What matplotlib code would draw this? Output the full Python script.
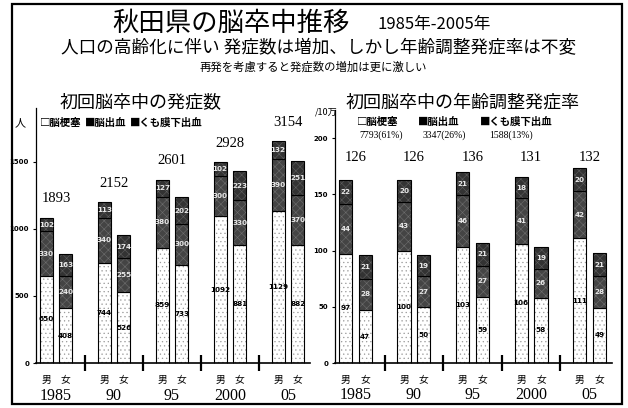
import numpy as np
import matplotlib
matplotlib.use("Agg")
import matplotlib.pyplot as plt
from matplotlib.patches import Rectangle

plt.rcParams['font.family'] = ['Noto Sans CJK JP', 'DejaVu Sans']
plt.rcParams['hatch.linewidth'] = 0.4

# ── DATA ─────────────────────────────────────────────────────────────────────
years = ["1985", "90", "95", "2000", "05"]
sexes = ["男", "女"]

# 初回脳卒中の発症数 (人)
cnt_total = [1893, 2152, 2601, 2928, 3154]
cnt_m_inf = [650, 744, 859, 1092, 1129]
cnt_m_hem = [330, 340, 380, 300, 390]
cnt_m_sah = [102, 113, 127, 102, 132]
cnt_f_inf = [408, 526, 733, 881, 882]
cnt_f_hem = [240, 255, 300, 330, 370]
cnt_f_sah = [163, 174, 202, 223, 251]

# 初回脳卒中の年齢調整発症率 (/10万)
rate_total = [126, 126, 136, 131, 132]
rate_m_inf = [97, 100, 103, 106, 111]
rate_m_hem = [44, 43, 46, 41, 42]
rate_m_sah = [22, 20, 21, 18, 20]
rate_f_inf = [47, 50, 59, 58, 49]
rate_f_hem = [28, 27, 27, 26, 28]
rate_f_sah = [21, 19, 21, 19, 21]

legend_names = ["脳梗塞", "脳出血", "くも膜下出血"]
legend_counts = ["7793(61%)", "3347(26%)", "1588(13%)"]

# ── STYLE ────────────────────────────────────────────────────────────────────
W, H = 628, 408
faces = ["white", "#444444", "#333333"]
hatch_cols = ["#9a9a9a", "#6e6e6e", "#5e5e5e"]
hatches = ["....", "xxxx", "xxxx"]
txt_cols = ["black", "#e8e8e8", "#e8e8e8"]
BW = 0.224
OFF = 0.168
SERIF = "Liberation Serif"

fig = plt.figure(figsize=(W / 100, H / 100), dpi=100)


def ftext(x, y, s, **kw):
    # place text using pixel coordinates of the reference
    fig.text(x / W, 1 - y / H, s, **kw)


def draw_panel(ax, m_parts, f_parts, totals, label_y, ylim, yticks):
    x = np.arange(len(years))
    for offs, parts in [(-OFF, m_parts), (OFF, f_parts)]:
        bottom = np.zeros(len(years))
        for k, vals in enumerate(parts):
            vals = np.array(vals, dtype=float)
            ax.bar(x + offs, vals, BW, bottom=bottom, color=faces[k],
                   hatch=hatches[k], edgecolor=hatch_cols[k], lw=0)
            ax.bar(x + offs, vals, BW, bottom=bottom, fill=False,
                   edgecolor="black", lw=0.8)
            for xi, b, v in zip(x + offs, bottom, vals):
                ax.text(xi, b + v / 2, f"{int(v)}", ha="center", va="center",
                        fontsize=5.2, fontweight="bold", color=txt_cols[k],
                        family="DejaVu Sans")
            bottom += vals
    for xi, t, ly in zip(x, totals, label_y):
        ax.text(xi, ly, str(t), ha="center", va="center", fontsize=10.5,
                family=SERIF)

    ax.set_xlim(-0.345, 4.38)
    ax.set_ylim(*ylim)
    ax.set_yticks(yticks)
    ax.set_yticklabels([str(t) for t in yticks], fontsize=5,
                       fontweight="bold", family="DejaVu Sans")
    ax.tick_params(axis="y", direction="out", length=2, width=0.8, pad=3)

    ax.set_xticks(np.arange(len(years) - 1) + 0.5)
    ax.set_xticklabels([])
    edges = np.sort(np.concatenate([x - OFF - BW / 2, x - OFF + BW / 2,
                                    x + OFF - BW / 2, x + OFF + BW / 2]))
    ax.set_xticks(edges, minor=True)
    ax.tick_params(axis="x", which="major", direction="inout", length=12,
                   width=1.6)
    ax.tick_params(axis="x", which="minor", direction="in", length=2.5,
                   width=0.6)
    for s in ["top", "right"]:
        ax.spines[s].set_visible(False)
    ax.spines["left"].set_linewidth(0.9)
    ax.spines["bottom"].set_linewidth(1.2)

    tr = ax.get_xaxis_transform()
    for xi, yr in zip(x, years):
        ax.text(xi - OFF, -0.068, sexes[0], transform=tr, ha="center",
                va="center", fontsize=7)
        ax.text(xi + OFF, -0.068, sexes[1], transform=tr, ha="center",
                va="center", fontsize=7)
        ax.text(xi, -0.128, yr, transform=tr, ha="center", va="center",
                fontsize=11.5, family=SERIF)


# left panel: counts
ax1 = fig.add_axes([36 / W, 45 / H, 274 / W, 255 / H])
cnt_m_tot = np.array(cnt_m_inf) + np.array(cnt_m_hem) + np.array(cnt_m_sah)
draw_panel(ax1, [cnt_m_inf, cnt_m_hem, cnt_m_sah],
           [cnt_f_inf, cnt_f_hem, cnt_f_sah], cnt_total,
           cnt_m_tot + 140, (0, 1900), [0, 500, 1000, 1500])

# right panel: age adjusted rate
ax2 = fig.add_axes([335 / W, 45 / H, 277 / W, 253 / H])
draw_panel(ax2, [rate_m_inf, rate_m_hem, rate_m_sah],
           [rate_f_inf, rate_f_hem, rate_f_sah], rate_total,
           [183] * len(years), (0, 225), [0, 50, 100, 150, 200])

# ── TITLES ───────────────────────────────────────────────────────────────────
ftext(231, 23, "秋田県の脳卒中推移", ha="center", va="center", fontsize=19)
ftext(434, 24, "1985年-2005年", ha="center", va="center", fontsize=12)
ftext(319, 48, "人口の高齢化に伴い 発症数は増加、しかし年齢調整発症率は不変",
      ha="center", va="center", fontsize=12.7)
ftext(313, 67, "再発を考慮すると発症数の増加は更に激しい", ha="center",
      va="center", fontsize=8.2)
ftext(141, 102, "初回脳卒中の発症数", ha="center", va="center", fontsize=13)
ftext(463, 102, "初回脳卒中の年齢調整発症率", ha="center", va="center",
      fontsize=13)

# units
ftext(20, 123, "人", ha="center", va="center", fontsize=8)
ftext(326, 112, "/10万", ha="center", va="center", fontsize=6.5)

# legends
marks = ["□", "■", "■"]
left_x = [40, 85, 130]
for lx, mk, nm in zip(left_x, marks, legend_names):
    ftext(lx, 123, mk + nm, ha="left", va="center", fontsize=7.5,
          fontweight="bold")
right_x = [357, 418, 480]
right_num_x = [381, 444, 511]
for lx, nx, mk, nm, cn in zip(right_x, right_num_x, marks, legend_names,
                              legend_counts):
    ftext(lx, 122, mk + nm, ha="left", va="center", fontsize=7.5,
          fontweight="bold")
    ftext(nx, 135, cn, ha="center", va="center", fontsize=7, family=SERIF)

# outer frame
fig.patches.append(Rectangle((12 / W, 4 / H), 610 / W, 400 / H,
                             transform=fig.transFigure, fill=False,
                             edgecolor="black", lw=1.6))

fig.savefig("out.png", dpi=100)
